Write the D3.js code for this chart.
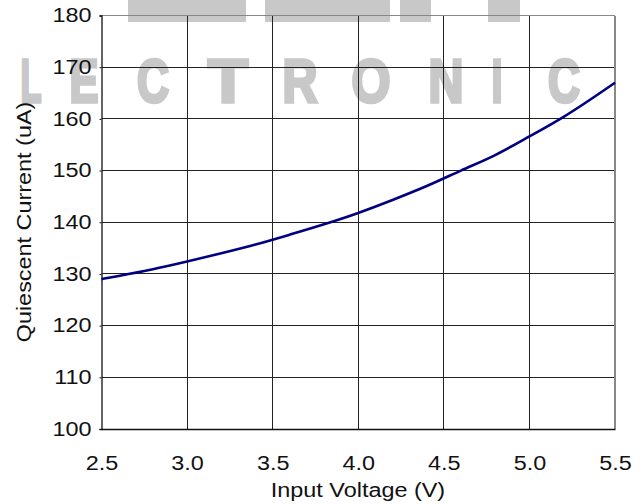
<!DOCTYPE html>
<html>
<head>
<meta charset="utf-8">
<script src="https://cdn.jsdelivr.net/npm/d3@7/dist/d3.min.js"></script>
<style>
html,body{margin:0;padding:0;background:#fff;}
svg{display:block;}
</style>
</head>
<body>
<script>
// Data
const voltage = [2.5, 2.6, 2.8, 3.0, 3.2, 3.4, 3.6, 3.8, 4.0, 4.2, 4.4, 4.6, 4.8, 5.0, 5.2, 5.5];
const current = [129.0, 129.6, 130.9, 132.4, 134.0, 135.7, 137.6, 139.6, 141.8, 144.3, 147.0, 150.0, 153.0, 156.6, 160.4, 167.0];
const xTicks = [2.5, 3.0, 3.5, 4.0, 4.5, 5.0, 5.5];
const yTicks = [100, 110, 120, 130, 140, 150, 160, 170, 180];
const xTitle = "Input Voltage (V)";
const yTitle = "Quiescent Current (uA)";
const watermarkLetters = ["L","E","C","T","R","O","N","I","C"];

const W = 644, H = 504;
const m = {left: 101.5, right: 615, top: 15.5, bottom: 429};
const FONT = "'Liberation Sans', Arial, sans-serif";
const svg = d3.select("body").append("svg").attr("width", W).attr("height", H);

const x = d3.scaleLinear().domain([2.5, 5.5]).range([m.left, m.right]);
const y = d3.scaleLinear().domain([100, 180]).range([m.bottom, m.top]);

function stretch(sel, f) {
  sel.each(function() {
    const len = this.getComputedTextLength();
    d3.select(this).attr("textLength", len * f).attr("lengthAdjust", "spacingAndGlyphs");
  });
}

// watermark
const wm = svg.append("g").attr("fill", "#c8c8c8");
[[128,118],[265,125],[400,31],[488,32]].forEach(([bx,bw]) => {
  wm.append("rect").attr("x", bx).attr("y", 0).attr("width", bw).attr("height", 22);
});
const wmX = [31, 84, 153, 228, 300, 371, 446, 497, 564];
const wmW = [21, 29, 32, 40, 35, 39, 35, 11, 32];
watermarkLetters.forEach((ch, i) => {
  wm.append("text").attr("x", wmX[i]).attr("y", 101.5)
    .attr("text-anchor", "middle")
    .attr("textLength", wmW[i]).attr("lengthAdjust", "spacingAndGlyphs")
    .attr("stroke", "#c8c8c8").attr("stroke-width", 3.5).attr("stroke-linejoin", "miter")
    .style("font-family", FONT)
    .style("font-weight", "bold").style("font-size", "61px")
    .text(ch);
});

// grid
const grid = svg.append("g").attr("stroke", "#222").attr("stroke-width", 1).attr("shape-rendering", "crispEdges");
xTicks.slice(1, -1).forEach(v => grid.append("line").attr("x1", x(v)).attr("x2", x(v)).attr("y1", m.top).attr("y2", m.bottom));
yTicks.slice(1, -1).forEach(v => grid.append("line").attr("y1", y(v)).attr("y2", y(v)).attr("x1", m.left).attr("x2", m.right));

// frame top/right grey
const fr = svg.append("g").attr("stroke", "#888").attr("stroke-width", 1.2).attr("shape-rendering", "crispEdges");
fr.append("line").attr("x1", m.left).attr("x2", m.right).attr("y1", m.top).attr("y2", m.top);
fr.append("line").attr("x1", m.right).attr("x2", m.right).attr("y1", m.top).attr("y2", m.bottom);

// axes
const xAxis = svg.append("g").attr("transform", `translate(0,${m.bottom})`)
  .call(d3.axisBottom(x).tickValues(xTicks).tickFormat(d3.format(".1f")).tickSize(0).tickPadding(27));
const yAxis = svg.append("g").attr("transform", `translate(${m.left},0)`)
  .call(d3.axisLeft(y).tickValues(yTicks).tickFormat(d3.format("d")).tickSize(2).tickPadding(8));
[xAxis, yAxis].forEach(a => {
  a.select(".domain").attr("stroke", "#111").attr("stroke-width", 1.3);
  a.selectAll("line").attr("stroke", "#111");
  a.selectAll("text").attr("fill", "#111")
    .style("font-family", FONT).style("font-size", "19.5px");
  stretch(a.selectAll("text"), 1.2);
});

// line
svg.append("path").datum(voltage.map((v, i) => [v, current[i]]))
  .attr("fill", "none").attr("stroke", "#000080").attr("stroke-width", 2.6)
  .attr("stroke-linejoin", "round")
  .attr("d", d3.line().x(d => x(d[0])).y(d => y(d[1])).curve(d3.curveMonotoneX));

// titles
const xt = svg.append("text").attr("x", 358).attr("y", 497).attr("text-anchor", "middle")
  .attr("fill", "#111").style("font-family", FONT).style("font-size", "19.5px")
  .text(xTitle);
const yt = svg.append("text").attr("transform", "translate(31,222) rotate(-90)").attr("text-anchor", "middle")
  .attr("fill", "#111").style("font-family", FONT).style("font-size", "19.5px")
  .text(yTitle);
stretch(xt, 1.2);
stretch(yt, 1.2);
</script>
</body>
</html>
